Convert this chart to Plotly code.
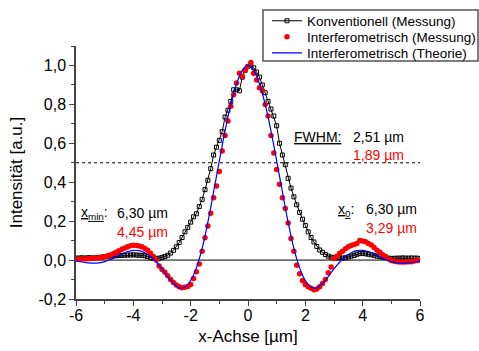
import plotly.graph_objects as go

# ---------------- data ----------------
x_conv = [round(-6 + 0.1 * i, 1) for i in range(121)]
y_conv = [
    0.010, 0.010, 0.012, 0.010, 0.012, 0.012, 0.010, 0.012, 0.014, 0.015,
    0.018, 0.020, 0.020, 0.022, 0.022, 0.024, 0.024, 0.025, 0.026, 0.026,
    0.027, 0.026, 0.025, 0.024, 0.022, 0.018, 0.012, 0.008, 0.008, 0.010,
    0.014, 0.018, 0.025, 0.036, 0.050, 0.068, 0.090, 0.116, 0.145, 0.168,
    0.195, 0.222, 0.238, 0.275, 0.312, 0.362, 0.410, 0.470, 0.540, 0.580,
    0.615, 0.660, 0.735, 0.770, 0.815, 0.875, 0.875, 0.870, 0.940, 0.975,
    0.995, 1.000, 0.988, 0.966, 0.940, 0.900, 0.860, 0.815, 0.776, 0.740,
    0.690, 0.600, 0.540, 0.490, 0.420, 0.370, 0.325, 0.284, 0.245, 0.210,
    0.178, 0.145, 0.116, 0.093, 0.070, 0.052, 0.040, 0.028, 0.020, 0.015,
    0.013, 0.012, 0.012, 0.010, 0.012, 0.016, 0.020, 0.024, 0.030, 0.033,
    0.034, 0.032, 0.030, 0.027, 0.024, 0.020, 0.018, 0.015, 0.012, 0.010,
    0.009, 0.009, 0.010, 0.010, 0.011, 0.010, 0.010, 0.011, 0.010, 0.010,
    0.008,
]

x_meas = [round(-6 + 0.1 * i, 1) for i in range(121)]
y_meas = [
    0.005, 0.005, 0.006, 0.006, 0.007, 0.008, 0.009, 0.010, 0.012, 0.014,
    0.017, 0.021, 0.026, 0.032, 0.040, 0.048, 0.055, 0.062, 0.068, 0.073,
    0.076, 0.075, 0.072, 0.068, 0.060, 0.050, 0.035, 0.018, 0.000, -0.030,
    -0.048, -0.062, -0.080, -0.100, -0.115, -0.128, -0.137, -0.142, -0.140, -0.136,
    -0.125, -0.095, -0.060, -0.020, 0.045, 0.115, 0.175, 0.240, 0.320, 0.380,
    0.455, 0.560, 0.640, 0.715, 0.790, 0.850, 0.910, 0.960, 0.945, 0.975,
    0.995, 1.015, 0.960, 0.925, 0.885, 0.870, 0.800, 0.740, 0.640, 0.550,
    0.465, 0.390, 0.320, 0.265, 0.190, 0.111, 0.045, -0.026, -0.070, -0.105,
    -0.125, -0.137, -0.145, -0.152, -0.148, -0.137, -0.120, -0.100, -0.065, -0.035,
    0.008, 0.020, 0.035, 0.045, 0.058, 0.068, 0.075, 0.080, 0.085, 0.100,
    0.098, 0.094, 0.085, 0.077, 0.065, 0.051, 0.040, 0.028, 0.018, 0.006,
    -0.002, -0.006, -0.009, -0.010, -0.010, -0.010, -0.009, -0.008, -0.005, -0.002,
    0.000,
]

x_theo = [round(-6 + 0.2 * i, 1) for i in range(61)]
y_theo = [
    -0.005, -0.010, -0.014, -0.016, -0.014, -0.008, 0.003, 0.017, 0.032, 0.044,
    0.050, 0.049, 0.038, 0.018, -0.010, -0.045, -0.085, -0.120, -0.143, -0.140,
    -0.105, -0.040, 0.060, 0.195, 0.350, 0.510, 0.665, 0.800, 0.905, 0.975,
    1.000,
    0.975, 0.905, 0.800, 0.665, 0.510, 0.350, 0.195, 0.060, -0.040, -0.105,
    -0.140, -0.143, -0.120, -0.085, -0.045, -0.010, 0.018, 0.038, 0.049, 0.050,
    0.044, 0.032, 0.017, 0.003, -0.008, -0.014, -0.016, -0.014, -0.010, -0.005,
]

series_names = ["Konventionell (Messung)", "Interferometrisch (Messung)",
                "Interferometrisch (Theorie)"]

x_tickvals = [-6, -4, -2, 0, 2, 4, 6]
x_ticktext = ["-6", "-4", "-2", "0", "2", "4", "6"]
y_tickvals = [-0.2, 0.0, 0.2, 0.4, 0.6, 0.8, 1.0]
y_ticktext = ["-0,2", "0,0", "0,2", "0,4", "0,6", "0,8", "1,0"]

x_range = [-6, 6]
y_range = [-0.2, 1.1]
half_level = 0.5

fwhm_vals = ["2,51 µm", "1,89 µm"]
xmin_vals = ["6,30 µm", "4,45 µm"]
x0_vals = ["6,30 µm", "3,29 µm"]

# ---------------- figure ----------------
FONT = "Arial, Liberation Sans, sans-serif"
fig = go.Figure()

fig.add_trace(go.Scatter(
    x=x_conv, y=y_conv, mode="lines+markers", name=series_names[0],
    line=dict(color="black", width=1), legend="legend", showlegend=True,
    marker=dict(symbol="square-open", size=4, color="black", line=dict(width=1)),
))
fig.add_trace(go.Scatter(
    x=x_meas, y=y_meas, mode="markers", name=series_names[1], legend="legend2",
    showlegend=True,
    marker=dict(symbol="circle", size=5.5, color="#ff0000"),
))
fig.add_trace(go.Scatter(
    x=x_theo, y=y_theo, mode="lines", name=series_names[2], legend="legend3",
    showlegend=True,
    line=dict(color="#0000ff", width=1.2, shape="spline"),
))

# reference lines
fig.add_shape(type="line", xref="x", yref="y", x0=x_range[0], x1=x_range[1],
              y0=0, y1=0, line=dict(color="black", width=1), layer="below")
fig.add_shape(type="line", xref="x", yref="y", x0=x_range[0], x1=x_range[1],
              y0=half_level, y1=half_level,
              line=dict(color="black", width=1, dash="dot"), layer="below")

L, R, T, B = 76, 59, 46, 52
W, H = 479, 351
pw, ph = W - L - R, H - T - B


def px(xp):
    return (xp - L) / pw


def py(yp):
    return (H - B - yp) / ph


# legend frame
fig.add_shape(type="rect", xref="paper", yref="paper",
              x0=px(263), x1=px(478), y0=py(61), y1=py(10),
              line=dict(color="#555555", width=1.5), fillcolor="white",
              layer="above")


def ann(x, y, text, color="black", size=14, **kw):
    fig.add_annotation(xref="paper", yref="paper", x=x, y=y, text=text,
                       showarrow=False, xanchor="left", yanchor="middle",
                       font=dict(family=FONT, size=size, color=color), **kw)


ann(px(292), py(137), "<u>FWHM:</u>")
ann(px(351), py(137), fwhm_vals[0])
ann(px(351), py(155), fwhm_vals[1], "#ff0000")
ann(px(79), py(213), "<u>x<sub>min</sub></u>:")
ann(px(115), py(213), xmin_vals[0])
ann(px(115), py(232), xmin_vals[1], "#ff0000")
ann(px(336), py(210), "<u>x<sub>0</sub></u>:")
ann(px(364), py(209), x0_vals[0])
ann(px(364), py(228), x0_vals[1], "#ff0000")

axis_common = dict(
    showline=True, linecolor="#444444", linewidth=1.5, mirror=False,
    ticks="outside", ticklen=5, tickwidth=1, tickcolor="#444444",
    showgrid=False, zeroline=False,
    tickfont=dict(family=FONT, size=16, color="black"),
)

fig.update_xaxes(
    range=x_range, tickmode="array", tickvals=x_tickvals, ticktext=x_ticktext,
    minor=dict(ticks="outside", ticklen=3, tickcolor="#444444", dtick=1, tick0=0),
    title=dict(text="x-Achse [µm]", font=dict(family=FONT, size=17, color="black"),
               standoff=7),
    ticklabelstandoff=-4,
    **axis_common,
)
fig.update_yaxes(
    range=y_range, tickmode="array", tickvals=y_tickvals, ticktext=y_ticktext,
    minor=dict(ticks="outside", ticklen=3, tickcolor="#444444", dtick=0.1, tick0=0),
    title=dict(text="Intensität [a.u.]", font=dict(family=FONT, size=17, color="black"),
               standoff=12),
    **axis_common,
)

leg_common = dict(
    x=px(267), xanchor="left", yanchor="middle", visible=True,
    borderwidth=0, bgcolor="rgba(0,0,0,0)",
    font=dict(family=FONT, size=13.5, color="black"),
    itemwidth=30,
)

fig.update_layout(
    width=W, height=H, showlegend=True,
    margin=dict(l=L, r=R, t=T, b=B, autoexpand=False),
    paper_bgcolor="white", plot_bgcolor="white",
    font=dict(family=FONT, size=14, color="black"),
    legend=dict(y=py(21), **leg_common),
    legend2=dict(y=py(37), **leg_common),
    legend3=dict(y=py(53), **leg_common),
)

fig.write_html("out.html", config={"displayModeBar": False},
               post_script="document.body.style.margin='0';")
